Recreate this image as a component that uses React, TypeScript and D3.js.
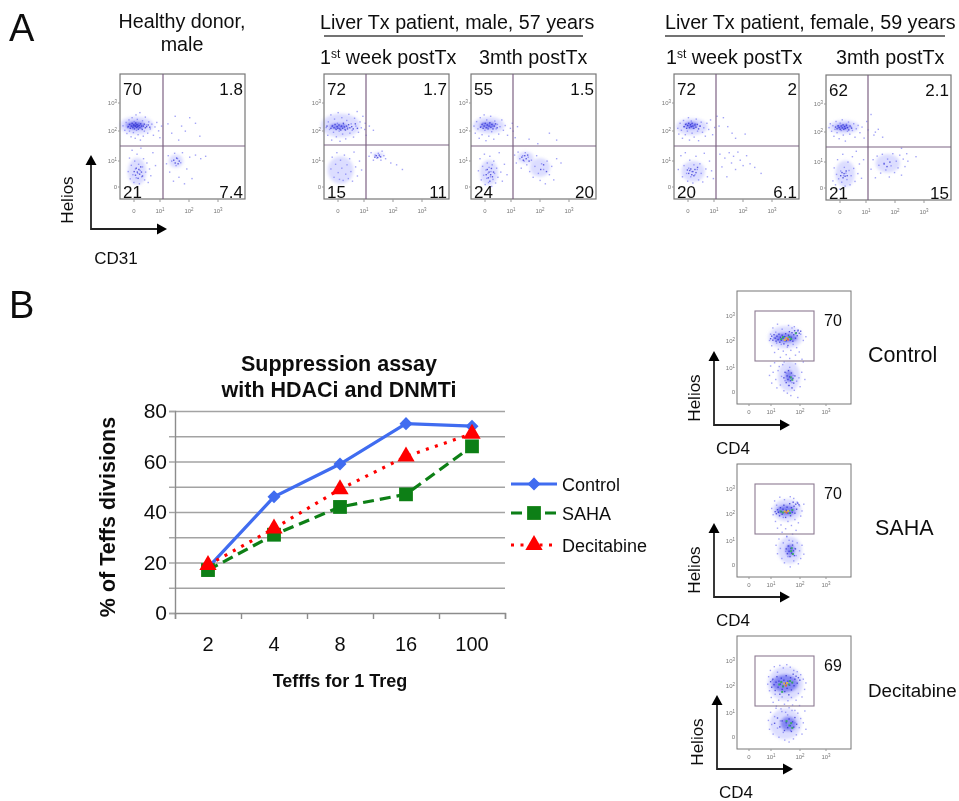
import React, { useEffect, useRef } from 'react'
import * as d3 from 'd3'

type Pair = number[]

// suppression assay
const ratios = ['2', '4', '8', '16', '100']
const controlValues = [18, 46, 59, 75, 74]
const sahaValues = [17, 31, 42, 47, 66]
const decitabineValues = [19, 33.5, 49, 62, 71]

// flow plots: events as [log x, log y]
const healthyDots: Pair[] = [
  [-.45, 2.21], [-.38, 2.05], [-.33, 2.33], [-.3, 1.94], [-.27, 2.15], [-.22, 2.42], [-.2, 2.02], [-.16, 2.27], [-.14, 1.83], [-.1, 2.5], [-.08, 2.11], [-.05, 1.97], [-.02, 2.36], [.02, 1.78], [.05, 2.6], [.07, 2.05], [.1, 2.44], [.13, 1.9], [.16, 2.3], [.2, 2.68], [.22, 1.72], [.26, 2.13], [.3, 2.39], [.33, 1.85], [.37, 2.02], [.41, 2.52], [.45, 2.24], [.5, 1.95], [.54, 2.35], [.6, 2.1], [.66, 2.27], [.72, 1.88], [.78, 2.17], [.85, 2.33], [.92, 2.03], [.97, 1.8], [1.03, 2.2],
  [-.25, .62], [-.2, 1.12], [-.17, .34], [-.13, .86], [-.1, 1.38], [-.07, .5], [-.03, .2], [0, 1.02], [.03, .72], [.06, .38], [.09, 1.25], [.12, .55], [.15, .9], [.18, .15], [.21, .66], [.24, 1.45], [.27, .42], [.3, .8], [.34, 1.1], [.38, .3], [.42, .6], [.47, .95], [.52, .2], [.57, .72], [.62, .46], [.7, 1.3], [.8, .85],
  [1.2, .92], [1.26, 1.2], [1.31, .6], [1.38, 1.02], [1.44, .25], [1.48, 1.28], [1.53, .85], [1.58, 1.1], [1.63, .4], [1.69, .96], [1.75, 1.3], [1.82, .15], [1.9, .72], [2, 1.15], [2.08, .35], [2.2, 1.22], [2.38, 1.1], [2.55, 1.18],
  [1.25, 2.28], [1.38, 1.95], [1.5, 2.55], [1.62, 1.72], [1.72, 2.2], [1.85, 2.02], [2, 2.5], [2.2, 2.3], [2.35, 1.85]
]
const healthyDense: Pair[] = [
  [-.25, 2.18], [-.2, 2.26], [-.17, 2.12], [-.13, 2.2], [-.1, 2.3], [-.07, 2.16], [-.04, 2.24], [-.01, 2.1], [.02, 2.2], [.04, 2.31], [.07, 2.15], [.09, 2.25], [.12, 2.18], [.14, 2.09], [.17, 2.22], [.2, 2.14], [.23, 2.28], [.26, 2.2], [.29, 2.08], [.33, 2.2], [.37, 2.27], [.41, 2.14], [.46, 2.18], [.52, 2.24], [.58, 2.16],
  [-.02, .62], [.03, .48], [.06, .75], [.1, .6], [.13, .36], [.16, .7], [.19, .52], [.23, .8], [.26, .6], [.3, .45], [1.45, 1.05], [1.5, .95], [1.55, 1.12], [1.6, .92], [1.64, 1.02]
]
const maleWeekDots: Pair[] = [
  [-.48, 2.15], [-.42, 1.88], [-.4, 2.35], [-.35, 2.08], [-.3, 2.6], [-.27, 1.72], [-.23, 2.22], [-.2, 1.98], [-.16, 2.45], [-.12, 2.12], [-.09, 1.83], [-.05, 2.3], [-.02, 2.68], [.02, 2.02], [.05, 1.68], [.08, 2.18], [.12, 2.5], [.15, 1.92], [.19, 2.25], [.23, 2.08], [.27, 1.76], [.31, 2.4], [.35, 2.15], [.39, 2.62], [.43, 1.95], [.48, 2.28], [.52, 2.05], [.57, 1.82], [.61, 2.48], [.66, 2.2], [.71, 2.72], [.76, 1.98], [.82, 2.35], [.87, 2.14], [.93, 2.55], [1, 2.08], [1.02, 2.3], [1.05, 1.88], [1.16, 2.2], [1.3, 2.05],
  [-.3, .72], [-.25, 1.15], [-.18, .4], [-.12, .9], [-.07, 1.3], [-.02, .58], [.03, .32], [.07, 1.05], [.12, .75], [.17, .28], [.22, 1.22], [.27, .52], [.32, .88], [.37, .35], [.42, 1.1], [.47, .62], [.53, .25], [.59, 1.32], [.65, .8], [.72, .45], [.8, 1.02], [.88, .68],
  [1.15, 1.18], [1.22, 1.3], [1.3, 1.05], [1.36, 1.22], [1.42, 1.12], [1.47, 1.28], [1.52, 1.18], [1.56, 1.05], [1.6, 1.35], [1.66, 1.2], [1.72, 1.1], [1.9, .95], [2.1, .88], [2.3, .7]
]
const maleWeekDense: Pair[] = [
  [-.45, 2.2], [-.3, 2.12], [-.25, 2.2], [-.18, 2.14], [-.14, 2.26], [-.1, 2.08], [-.06, 2.18], [-.03, 2.12], [.01, 2.24], [.04, 2.1], [.08, 2.06], [.11, 2.2], [.15, 2.12], [.18, 2.3], [.22, 2.17], [.26, 2.06], [.3, 2.2], [.34, 2.1], [.38, 2.25], [.43, 2.14], [.5, 2.18], [.56, 2.1], [.64, 2.28], [.72, 2.12],
  [1.35, 1.15], [1.4, 1.2], [1.45, 1.14], [1.5, 1.22], [1.55, 1.16]
]
const maleMonthDots: Pair[] = [
  [-.45, 2.2], [-.4, 1.95], [-.35, 2.36], [-.3, 2.1], [-.25, 1.78], [-.21, 2.5], [-.18, 2.18], [-.14, 1.9], [-.1, 2.3], [-.06, 2.6], [-.03, 2.05], [.01, 1.7], [.04, 2.42], [.08, 2.15], [.12, 1.85], [.15, 2.28], [.19, 2.55], [.23, 2], [.27, 2.2], [.31, 1.75], [.35, 2.38], [.4, 2.1], [.45, 2.26], [.5, 1.92], [.55, 2.18], [.62, 2.42], [.68, 2.05], [.75, 2.22], [.84, 1.88], [.95, 2.12], [1.02, 2.3], [1.05, 2.02], [1.12, 1.8], [1.2, 2.18],
  [-.28, .65], [-.22, 1.1], [-.17, .3], [-.12, .82], [-.08, .48], [-.05, 1.25], [-.02, .12], [.01, .68], [.04, .36], [.06, .95], [.09, .55], [.11, .2], [.13, .78], [.16, 1.18], [.18, .42], [.2, .62], [.23, .05], [.25, .88], [.28, .32], [.31, 1.02], [.34, .55], [.38, .18], [.42, .75], [.47, .4], [.52, 1.3], [.58, .6], [.64, .25], [.72, .9], [.82, .5],
  [1.1, 1.22], [1.16, .95], [1.22, 1.32], [1.28, 1.1], [1.33, .75], [1.38, 1.2], [1.43, 1.02], [1.47, 1.3], [1.52, .88], [1.57, 1.15], [1.62, .62], [1.68, 1.05], [1.74, .4], [1.8, .82], [1.86, 1.2], [1.92, .55], [1.98, .28], [2.03, .92], [2.1, .7], [2.16, .15], [2.22, 1.02], [2.3, .5], [2.38, .82], [2.45, .3], [2.55, 1.1], [2.7, .95],
  [1.6, 1.75], [1.9, 1.6], [2.3, 1.95], [2.55, 1.72]
]
const maleMonthDense: Pair[] = [
  [-.2, 2.16], [-.14, 2.26], [-.1, 2.12], [-.06, 2.2], [-.02, 2.3], [.02, 2.14], [.06, 2.24], [.09, 2.1], [.13, 2.2], [.16, 2.32], [.2, 2.16], [.24, 2.26], [.28, 2.1], [.33, 2.2], [.38, 2.28], [.44, 2.14],
  [.02, .5], [.06, .7], [.1, .38], [.13, .6], [.16, .25], [.19, .5], [.22, .74], [.26, .42], [.3, .6], [1.35, 1.15], [1.4, 1.05], [1.45, 1.2], [1.5, 1.1], [1.55, 1.22], [1.6, 1.02], [2, .7], [2.1, .88], [2.2, .62]
]
const femaleWeekDots: Pair[] = [
  [-.42, 2.12], [-.38, 1.92], [-.33, 2.3], [-.28, 2.05], [-.24, 1.78], [-.2, 2.4], [-.17, 2.18], [-.13, 1.9], [-.09, 2.28], [-.05, 2.02], [-.01, 2.5], [.03, 1.72], [.06, 2.2], [.1, 2.38], [.13, 1.95], [.17, 2.12], [.21, 1.82], [.25, 2.28], [.29, 2.45], [.34, 2.02], [.38, 1.7], [.43, 2.2], [.48, 2.34], [.53, 1.98], [.58, 2.14], [.64, 1.85], [.7, 2.3], [.77, 2.08], [.84, 2.42], [.92, 1.9], [1, 2.15], [1.08, 2.55], [1.15, 2.2], [1.3, 2.5], [1.45, 2.18], [1.6, 1.95], [1.72, 1.78], [2.05, 1.92],
  [-.4, .7], [-.3, 1.2], [-.24, .42], [-.18, .85], [-.13, 1.3], [-.08, .55], [-.04, .25], [0, .75], [.04, 1.05], [.08, .42], [.12, .62], [.16, .18], [.2, .88], [.24, .5], [.28, 1.18], [.33, .7], [.38, .3], [.43, .92], [.48, .55], [.54, .22], [.6, 1.28], [.66, .72], [.72, .42], [.8, 1.02], [.88, .65], [.95, .35],
  [1.18, 1.25], [1.25, .8], [1.35, 1.12], [1.42, .42], [1.5, 1.3], [1.58, .95], [1.65, 1.18], [1.72, .7], [1.8, 1.32], [1.88, 1.05], [1.98, .85], [2.1, 1.2], [2.22, .92], [2.38, .78], [2.6, .55]
]
const femaleWeekDense: Pair[] = [
  [-.18, 2.18], [-.12, 2.26], [-.08, 2.12], [-.04, 2.22], [0, 2.3], [.03, 2.14], [.07, 2.25], [.1, 2.18], [.13, 2.3], [.16, 2.2], [.2, 2.12], [.24, 2.24], [.28, 2.16], [.33, 2.26], [.38, 2.1], [.44, 2.2],
  [-.05, .68], [0, .55], [.04, .66], [.08, .72], [.12, .5], [.16, .62], [.2, .46], [.24, .7], [.28, .58], [.34, .78]
]
const femaleMonthDots: Pair[] = [
  [-.45, 2.18], [-.4, 2.32], [-.35, 2.05], [-.3, 2.25], [-.26, 1.88], [-.22, 2.12], [-.18, 2.4], [-.14, 2], [-.1, 2.22], [-.06, 1.8], [-.02, 2.34], [.02, 2.08], [.06, 2.46], [.1, 1.92], [.14, 2.16], [.18, 1.72], [.22, 2.3], [.26, 2.05], [.3, 2.38], [.35, 1.95], [.4, 2.2], [.45, 2.08], [.5, 2.32], [.55, 1.85], [.6, 2.14], [.67, 2.26], [.74, 2], [.82, 2.2], [.9, 1.82], [1, 2.4], [1.05, 2.1], [1.15, 2.65], [1.25, 1.92], [1.4, 2.12], [1.55, 1.85],
  [-.3, .3], [-.25, .8], [-.2, .15], [-.16, .55], [-.12, 1.1], [-.08, .38], [-.04, -.02], [0, .68], [.04, .25], [.08, 1.28], [.11, .5], [.14, .82], [.17, .1], [.2, .6], [.24, .35], [.28, 1.02], [.32, .7], [.36, .15], [.4, .5], [.45, 1.2], [.5, .78], [.55, .28], [.6, 1.38], [.66, .58], [.72, .95], [.8, .4], [.88, 1.1],
  [1.15, .75], [1.22, 1.1], [1.3, .42], [1.36, 1.22], [1.42, .9], [1.48, .6], [1.54, 1.28], [1.6, .98], [1.66, .72], [1.72, 1.12], [1.78, .45], [1.84, .88], [1.9, 1.3], [1.96, .62], [2.02, 1.05], [2.08, .8], [2.14, 1.25], [2.2, .52], [2.26, 1.12], [2.32, .85], [2.38, 1.3], [2.42, 1.05], [2.7, 1.2],
  [2.2, 1.48], [1.3, 2.02]
]
const femaleMonthDense: Pair[] = [
  [-.2, 2.2], [-.14, 2.14], [-.1, 2.25], [-.06, 2.18], [-.02, 2.12], [.02, 2.24], [.06, 2.17], [.09, 2.28], [.12, 2.12], [.15, 2.22], [.18, 2.15], [.22, 2.26], [.26, 2.18], [.31, 2.1], [.36, 2.24], [.42, 2.16],
  [0, .5], [.05, .62], [.09, .42], [.13, .58], [.17, .48], [.21, .68], [.25, .5], [1.6, .95], [1.7, .85], [1.8, 1.02]
]
const gateControlDots: Pair[] = [
  [.9, 2.05], [.95, 2.3], [1, 1.85], [1.04, 2.55], [1.08, 2.15], [1.1, 1.6], [1.14, 2.38], [1.17, 1.95], [1.2, 2.7], [1.23, 1.72], [1.26, 2.12], [1.3, 1.42], [1.33, 1.9], [1.36, 2.5], [1.4, 1.65], [1.43, 1.25], [1.46, 2.02], [1.5, 1.52], [1.54, 1.8], [1.58, 2.65], [1.62, 1.38], [1.66, 1.68], [1.7, 2.55], [1.74, 1.9], [1.78, 2.6], [1.82, 1.5], [1.86, 1.78], [1.9, 2.42], [1.95, 1.62], [2, 2.3], [2.05, 1.35], [2.1, 2.05], [2.2, 2.2],
  [.9, .72], [.95, 1.1], [1, .4], [1.05, .85], [1.1, 1.22], [1.14, .55], [1.18, .2], [1.22, .92], [1.26, 1.08], [1.3, .32], [1.34, .68], [1.38, 1.15], [1.42, .08], [1.46, .5], [1.5, .82], [1.54, -.02], [1.58, .3], [1.62, 1.05], [1.66, -.12], [1.7, .42], [1.74, .72], [1.78, .1], [1.82, 1.18], [1.86, .48], [1.9, -.2], [1.94, .62], [1.98, .25], [2.04, .85], [2.1, 1.25], [2.16, .55]
]
const gateControlDense: Pair[] = [
  [.95, 2.12], [1, 2.22], [1.04, 2.06], [1.08, 2.28], [1.12, 2.14], [1.15, 2.02], [1.18, 2.22], [1.22, 2.08], [1.25, 2.3], [1.28, 1.98], [1.3, 2.18], [1.33, 2.06], [1.36, 2.26], [1.39, 2.14], [1.42, 1.92], [1.45, 2.2], [1.48, 2.32], [1.5, 2.04], [1.53, 2.14], [1.56, 1.86], [1.58, 2.26], [1.61, 2.4], [1.64, 2.06], [1.67, 2.18], [1.7, 2.36], [1.73, 2.02], [1.76, 2.28], [1.79, 2.44], [1.82, 2.14], [1.85, 2.36], [1.88, 2.24], [1.91, 2.46], [1.95, 2.34], [2, 2.42],
  [1.42, .62], [1.46, .85], [1.5, .42], [1.53, .7], [1.56, .55], [1.58, .92], [1.6, .3], [1.62, .66], [1.65, .5], [1.68, .82], [1.7, .2], [1.73, .6], [1.76, .4], [1.8, .7]
]
const gateSahaDots: Pair[] = [
  [1, 2.25], [1.05, 2], [1.1, 2.55], [1.13, 1.75], [1.17, 2.38], [1.2, 1.5], [1.24, 2.1], [1.28, 2.7], [1.32, 1.62], [1.36, 1.35], [1.4, 1.9], [1.44, 2.6], [1.48, 1.48], [1.52, 1.2], [1.56, 1.75], [1.6, 1.05], [1.64, 2.72], [1.68, 1.6], [1.72, 1.28], [1.76, 2.65], [1.8, 1.82], [1.84, 1.42], [1.88, 2.5], [1.92, 1.7], [1.96, 2.35], [2, 1.95], [2.05, 2.15], [2.12, 2.42],
  [1.15, .85], [1.2, .5], [1.25, 1.1], [1.3, .72], [1.35, .3], [1.4, .95], [1.44, .12], [1.48, .6], [1.52, 1.18], [1.56, .38], [1.6, .82], [1.64, -.05], [1.68, .55], [1.72, 1.02], [1.76, .2], [1.8, .72], [1.84, .42], [1.88, .95], [1.92, .08], [1.96, .62], [2, .3], [2.05, .85], [2.12, .48]
]
const gateSahaDense: Pair[] = [
  [1.12, 2.12], [1.16, 2.04], [1.2, 2.2], [1.23, 2.1], [1.27, 1.96], [1.3, 2.28], [1.33, 2.12], [1.36, 2.02], [1.39, 2.22], [1.42, 2.38], [1.45, 2.1], [1.48, 1.9], [1.5, 2.18], [1.53, 2.3], [1.56, 2.06], [1.59, 2.16], [1.62, 2.44], [1.65, 1.96], [1.68, 2.28], [1.71, 2.1], [1.74, 2.5], [1.77, 2.34], [1.8, 2.06], [1.83, 2.42], [1.86, 2.22], [1.9, 2.46], [1.94, 2.4],
  [1.5, .7], [1.54, .5], [1.57, .82], [1.6, .6], [1.63, .38], [1.66, .72], [1.69, .52], [1.72, .86], [1.75, .62], [1.78, .42], [1.82, .7]
]
const gateDecitabineDots: Pair[] = [
  [.82, 2.1], [.86, 2.4], [.9, 1.85], [.94, 2.65], [.98, 1.6], [1.02, 2.25], [1.05, 1.42], [1.09, 2.8], [1.12, 1.72], [1.16, 1.28], [1.2, 2.58], [1.24, 1.5], [1.28, 2.85], [1.32, 1.18], [1.36, 1.62], [1.4, 2.75], [1.44, 1.35], [1.48, 1.05], [1.52, 2.88], [1.56, 1.48], [1.6, 1.22], [1.64, 2.78], [1.68, 1.6], [1.72, 1.32], [1.76, 2.65], [1.8, 1.12], [1.84, 1.5], [1.88, 2.6], [1.92, 1.75], [1.96, 1.3], [2, 2.48], [2.05, 1.62], [2.1, 2.3], [2.15, 1.9], [2.2, 2.15],
  [.85, .72], [.9, .35], [.95, 1.05], [1, .55], [1.05, .15], [1.1, .88], [1.15, 1.2], [1.2, .4], [1.25, .02], [1.3, .7], [1.35, 1.08], [1.4, .22], [1.45, -.1], [1.5, .52], [1.55, .95], [1.6, -.18], [1.65, .3], [1.7, 1.12], [1.75, -.05], [1.8, .62], [1.85, .12], [1.9, 1.02], [1.95, .42], [2, .8], [2.05, .15], [2.1, .62], [2.16, 1.1], [2.2, .35]
]
const gateDecitabineDense: Pair[] = [
  [.95, 2.2], [1, 1.98], [1.04, 2.3], [1.08, 2.08], [1.12, 1.86], [1.15, 2.18], [1.18, 2.4], [1.22, 1.98], [1.25, 2.22], [1.28, 1.72], [1.3, 2.1], [1.33, 2.34], [1.36, 1.9], [1.39, 2.02], [1.42, 2.26], [1.45, 1.82], [1.48, 2.14], [1.5, 2.44], [1.53, 1.94], [1.56, 2.22], [1.59, 1.7], [1.62, 2.06], [1.65, 2.36], [1.68, 1.88], [1.71, 2.16], [1.74, 2.5], [1.77, 2.04], [1.8, 2.3], [1.84, 2.42], [1.88, 2.14], [1.92, 2.36], [1.97, 2.26],
  [1.1, .6], [1.2, .82], [1.28, .45], [1.36, .7], [1.44, .3], [1.5, .62], [1.55, .42], [1.6, .78], [1.64, .5], [1.68, .26], [1.72, .66], [1.76, .44], [1.8, .84], [1.86, .56]
]

// hot spots of the density colouring as [log x, log y, density level]
const gateControlHot: Pair[] = [[1.32, 2.12, 3], [1.38, 2.2, 3], [1.44, 2.08, 4], [1.5, 2.16, 4], [1.55, 2.1, 5], [1.6, 2.2, 3], [1.66, 2.12, 3], [1.82, 2.35, 3], [1.65, .65, 3], [1.7, .55, 3]]
const gateSahaHot: Pair[] = [[1.3, 2.14, 3], [1.38, 2.1, 3], [1.44, 2.14, 4], [1.5, 2.1, 5], [1.56, 2.16, 4], [1.62, 2.08, 3], [1.7, 2.2, 3], [1.66, .62, 3], [1.72, .5, 3], [1.68, .74, 3]]
const gateDecitabineHot: Pair[] = [[1.25, 2.1, 3], [1.32, 2.2, 3], [1.38, 2.02, 3], [1.42, 2.14, 4], [1.48, 2.06, 5], [1.52, 2.16, 4], [1.58, 2.1, 3], [1.62, 2.24, 3], [1.7, 2.18, 3], [1.35, 1.82, 3], [1.6, .52, 3], [1.66, .62, 3], [1.7, .42, 3], [1.5, .7, 3]]

// dense regions as [log x, log y, log rx, log ry, density level]
const healthyCores: Pair[] = [[.1, 2.2, .65, .32, 0], [.05, 2.2, .38, .15, 1], [.05, 2.2, .16, .05, 2], [.12, .6, .36, .5, 0], [1.55, 1, .25, .22, 0]]
const maleWeekCores: Pair[] = [[.1, 2.2, .75, .42, 0], [.02, 2.16, .36, .1, 1], [.1, .65, .5, .5, 0], [1.5, 1.2, .2, .08, 0]]
const maleMonthCores: Pair[] = [[.15, 2.2, .6, .3, 0], [.12, 2.2, .32, .12, 1], [.15, .55, .35, .48, 0], [1.5, 1.12, .28, .2, 0], [2, .75, .35, .35, 0]]
const femaleWeekCores: Pair[] = [[.15, 2.15, .6, .3, 0], [.12, 2.2, .26, .12, 1], [.2, .6, .45, .4, 0]]
const femaleMonthCores: Pair[] = [[.15, 2.18, .58, .24, 0], [.12, 2.18, .3, .11, 1], [.2, .55, .38, .5, 0], [1.75, .95, .42, .32, 0]]
const gateControlCores: Pair[] = [[1.5, 2.15, .6, .45, 0], [1.5, 2.12, .42, .2, 1], [1.62, .65, .38, .6, 0], [1.62, .65, .14, .26, 1]]
const gateSahaCores: Pair[] = [[1.55, 2.15, .5, .44, 0], [1.52, 2.14, .34, .22, 1], [1.65, .62, .42, .55, 0], [1.66, .62, .16, .26, 1]]
const gateDecitabineCores: Pair[] = [[1.5, 2.1, .62, .68, 0], [1.48, 2.1, .46, .36, 1], [1.5, .55, .55, .62, 0], [1.6, .55, .28, .3, 1]]

const densityColors = ['#c4c6ff', '#7072f0', '#2a2ad0', '#34a860', '#e8c030', '#ee6a28']
const logTicks = [0, 1, 2, 3]

// where things sit on the page
const quadPanels = [
  { left: 120, top: 74, splitX: 43, splitY: 72, labels: ['70', '1.8', '21', '7.4'], dots: healthyDots, dense: healthyDense, cores: healthyCores },
  { left: 324, top: 74, splitX: 42, splitY: 71, labels: ['72', '1.7', '15', '11'], dots: maleWeekDots, dense: maleWeekDense, cores: maleWeekCores },
  { left: 471, top: 74, splitX: 42, splitY: 72, labels: ['55', '1.5', '24', '20'], dots: maleMonthDots, dense: maleMonthDense, cores: maleMonthCores },
  { left: 674, top: 74, splitX: 42, splitY: 72, labels: ['72', '2', '20', '6.1'], dots: femaleWeekDots, dense: femaleWeekDense, cores: femaleWeekCores },
  { left: 826, top: 75, splitX: 42, splitY: 72, labels: ['62', '2.1', '21', '15'], dots: femaleMonthDots, dense: femaleMonthDense, cores: femaleMonthCores }
]
const gatePanels = [
  { top: 291, label: '70', name: 'Control', nameSize: 21.5, nameX: 868, nameY: 362, arrowX: 714, arrowY: 425, dots: gateControlDots, dense: gateControlDense, hot: gateControlHot, cores: gateControlCores },
  { top: 464, label: '70', name: 'SAHA', nameSize: 21.5, nameX: 875, nameY: 535, arrowX: 714, arrowY: 597, dots: gateSahaDots, dense: gateSahaDense, hot: gateSahaHot, cores: gateSahaCores },
  { top: 636, label: '69', name: 'Decitabine', nameSize: 18.8, nameX: 868, nameY: 697, arrowX: 717, arrowY: 769, dots: gateDecitabineDots, dense: gateDecitabineDense, hot: gateDecitabineHot, cores: gateDecitabineCores }
]

const sans = '"Liberation Sans", Arial, sans-serif'

function addText (g, x, y, str, size, opts: any = {}) {
  return g.append('text')
    .attr('x', x)
    .attr('y', y)
    .attr('font-size', size)
    .attr('font-family', sans)
    .attr('fill', opts.fill || '#111')
    .attr('font-weight', opts.weight || 'normal')
    .attr('text-anchor', opts.anchor || 'start')
    .text(str)
}

function addVertical (g, x, y, str, size, weight = 'normal') {
  g.append('text')
    .attr('transform', `translate(${x},${y}) rotate(-90)`)
    .attr('text-anchor', 'middle')
    .attr('font-size', size)
    .attr('font-family', sans)
    .attr('font-weight', weight)
    .attr('fill', '#111')
    .text(str)
}

function addArrows (g, x, y, lenUp, lenRight) {
  g.append('path')
    .attr('d', d3.line()([[x, y - lenUp + 8], [x, y], [x + lenRight - 8, y]]))
    .attr('fill', 'none')
    .attr('stroke', '#222')
    .attr('stroke-width', 1.8)
  g.append('path').attr('d', `M${x},${y - lenUp}l5.5,10h-11z`).attr('fill', '#000')
  g.append('path').attr('d', `M${x + lenRight},${y}l-10,-5.5v11z`).attr('fill', '#000')
}

function addLogTick (g, x, y, value, anchor = 'middle') {
  const t = g.append('text')
    .attr('x', x)
    .attr('y', y)
    .attr('font-size', 6)
    .attr('font-family', sans)
    .attr('fill', '#777')
    .attr('text-anchor', anchor)
  if (value === 0) {
    t.text('0')
  } else {
    t.append('tspan').text('10')
    t.append('tspan').attr('dy', -2).attr('font-size', 4.5).text(value)
  }
}

function drawCloud (g, p, x, y) {
  const cloud = g.append('g').attr('filter', 'url(#soft)')
  cloud.selectAll('ellipse')
    .data(p.cores)
    .enter().append('ellipse')
    .attr('cx', d => x(d[0]))
    .attr('cy', d => y(d[1]))
    .attr('rx', d => Math.abs(x(d[0] + d[2]) - x(d[0])))
    .attr('ry', d => Math.abs(y(d[1] + d[3]) - y(d[1])))
    .attr('fill', d => densityColors[d[4]])
    .attr('opacity', d => d[4] === 0 ? 0.6 : 0.8)

  const addDots = (data, size, color, opacity) => {
    g.append('g').selectAll('rect')
      .data(data)
      .enter().append('rect')
      .attr('x', d => x(d[0]))
      .attr('y', d => y(d[1]))
      .attr('width', size)
      .attr('height', size)
      .attr('fill', typeof color === 'function' ? color : () => color)
      .attr('opacity', opacity)
  }
  addDots(p.dots, 1.4, '#6668f2', 0.6)
  addDots(p.dense, 1.4, '#2222d0', 0.7)
  if (p.hot) addDots(p.hot, 2, d => densityColors[d[2]], 0.9)
}

function drawQuadPanel (svg, p) {
  const g = svg.append('g').attr('transform', `translate(${p.left},${p.top})`)
  const w = 125
  const h = 125
  const x = d3.scaleLinear().domain([0, 1, 2, 3]).range([14, 40, 69, 98])
  const y = d3.scaleLinear().domain([0, 1, 2, 3]).range([113, 87, 57, 29])

  drawCloud(g, p, x, y)

  g.append('rect')
    .attr('width', w)
    .attr('height', h)
    .attr('fill', 'none')
    .attr('stroke', '#777')
    .attr('stroke-width', 1.2)
  g.append('line').attr('x1', p.splitX).attr('x2', p.splitX).attr('y1', 0).attr('y2', h)
    .attr('stroke', '#7d6284').attr('stroke-width', 1.2)
  g.append('line').attr('x1', 0).attr('x2', w).attr('y1', p.splitY).attr('y2', p.splitY)
    .attr('stroke', '#7d6284').attr('stroke-width', 1.2)

  logTicks.forEach(t => {
    addLogTick(g, x(t), h + 14, t)
    addLogTick(g, -3, y(t) + 2, t, 'end')
    g.append('line').attr('x1', x(t)).attr('x2', x(t)).attr('y1', h).attr('y2', h + 3).attr('stroke', '#999')
    g.append('line').attr('x1', -2).attr('x2', 0).attr('y1', y(t)).attr('y2', y(t)).attr('stroke', '#999')
  })

  addText(g, 3, 21, p.labels[0], 17)
  addText(g, w - 2, 21, p.labels[1], 17, { anchor: 'end' })
  addText(g, 3, h - 1, p.labels[2], 17)
  addText(g, w - 2, h - 1, p.labels[3], 17, { anchor: 'end' })
}

function drawGatePanel (svg, p) {
  const g = svg.append('g').attr('transform', `translate(737,${p.top})`)
  const w = 114
  const h = 113
  const x = d3.scaleLinear().domain([0, 1, 2, 3]).range([12, 34, 63, 89])
  const y = d3.scaleLinear().domain([0, 1, 2, 3]).range([101, 77, 50, 25])

  drawCloud(g, p, x, y)

  g.append('rect')
    .attr('width', w)
    .attr('height', h)
    .attr('fill', 'none')
    .attr('stroke', '#777')
    .attr('stroke-width', 1)
  g.append('rect')
    .attr('x', 18)
    .attr('y', 20)
    .attr('width', 59)
    .attr('height', 50)
    .attr('fill', 'none')
    .attr('stroke', '#8d7a92')
    .attr('stroke-width', 1.1)

  logTicks.forEach(t => {
    addLogTick(g, x(t), h + 10, t)
    addLogTick(g, -2, y(t) + 2, t, 'end')
    g.append('line').attr('x1', x(t)).attr('x2', x(t)).attr('y1', h).attr('y2', h + 2).attr('stroke', '#999')
  })

  addText(g, 87, 35, p.label, 16)
  addText(svg, p.nameX, p.nameY, p.name, p.nameSize)
  addArrows(svg, p.arrowX, p.arrowY, 74, 76)
  addVertical(svg, p.arrowX - 14, p.arrowY - 27, 'Helios', 17)
  addText(svg, p.arrowX + 19, p.arrowY + 29, 'CD4', 17, { anchor: 'middle' })
}

function drawAssay (svg) {
  const g = svg.append('g')
  const left = 175
  const right = 505
  const top = 411
  const bottom = 613
  const y = d3.scaleLinear().domain([0, 80]).range([bottom, top])
  const band = d3.scaleBand().domain(ratios).range([left, right])
  const edges = d3.scaleLinear().domain([0, 5]).range([left, right])
  const px = (i: number) => (band(ratios[i]) as number) + band.bandwidth() / 2

  const grid = g.append('g')
    .attr('transform', `translate(${left},0)`)
    .call(d3.axisLeft(y).tickValues(d3.range(10, 90, 10)).tickSize(-(right - left)).tickFormat(() => ''))
  grid.select('.domain').remove()
  grid.selectAll('line').attr('stroke', '#a3a3a3').attr('stroke-width', 1.4)

  const yAxis = g.append('g')
    .attr('transform', `translate(${left},0)`)
    .call(d3.axisLeft(y).tickValues(d3.range(0, 90, 10)).tickSize(6).tickPadding(2)
      .tickFormat(d => (+d % 20 === 0 ? String(d) : '')))
  yAxis.select('.domain').attr('stroke', '#8c8c8c').attr('stroke-width', 1.4)
  yAxis.selectAll('line').attr('stroke', '#a3a3a3').attr('stroke-width', 1.4)
  yAxis.selectAll('text').attr('font-size', 21).attr('font-family', sans).attr('fill', '#111')

  const xEdges = g.append('g')
    .attr('transform', `translate(0,${bottom})`)
    .call(d3.axisBottom(edges).tickValues(d3.range(0, 6)).tickSize(6).tickFormat(() => ''))
  xEdges.select('.domain').attr('stroke', '#8c8c8c').attr('stroke-width', 1.4)
  xEdges.selectAll('line').attr('stroke', '#8c8c8c').attr('stroke-width', 1.4)

  const xLabels = g.append('g')
    .attr('transform', `translate(0,${bottom})`)
    .call(d3.axisBottom(band).tickSize(0).tickPadding(24))
  xLabels.select('.domain').remove()
  xLabels.selectAll('text').attr('font-size', 20).attr('font-family', sans).attr('fill', '#111')

  const series = [
    { name: 'Control', values: controlValues, color: '#3f6cf0', dash: null, shape: d3.symbolSquare, size: 85, turn: 45, legendY: 484 },
    { name: 'SAHA', values: sahaValues, color: '#0b7f14', dash: '11 6', shape: d3.symbolSquare, size: 190, turn: 0, legendY: 513 },
    { name: 'Decitabine', values: decitabineValues, color: '#ff0000', dash: '3 6.5', shape: d3.symbolTriangle, size: 130, turn: 0, legendY: 545 }
  ]
  const line = d3.line<number>().x((d, i) => px(i)).y(d => y(d))

  series.forEach(s => {
    g.append('path')
      .attr('d', line(s.values))
      .attr('fill', 'none')
      .attr('stroke', s.color)
      .attr('stroke-width', 3.2)
      .attr('stroke-dasharray', s.dash)
    g.selectAll(null)
      .data(s.values)
      .enter().append('path')
      .attr('d', d3.symbol().type(s.shape).size(s.size))
      .attr('transform', (d, i) => `translate(${px(i)},${y(d)}) rotate(${s.turn})`)
      .attr('fill', s.color)

    g.append('line')
      .attr('x1', 511).attr('x2', 557)
      .attr('y1', s.legendY).attr('y2', s.legendY)
      .attr('stroke', s.color)
      .attr('stroke-width', 3.2)
      .attr('stroke-dasharray', s.dash)
    g.append('path')
      .attr('d', d3.symbol().type(s.shape).size(s.size))
      .attr('transform', `translate(534,${s.legendY}) rotate(${s.turn})`)
      .attr('fill', s.color)
    addText(g, 562, s.legendY + 7, s.name, 18)
  })

  addText(g, 339, 371, 'Suppression assay', 21.5, { weight: 'bold', anchor: 'middle' })
  addText(g, 339, 397, 'with HDACi and DNMTi', 21.5, { weight: 'bold', anchor: 'middle' })
  addText(g, 340, 687, 'Tefffs for 1 Treg', 18, { weight: 'bold', anchor: 'middle' })
  addVertical(g, 115, 517, '% of Teffs divisions', 21.5, 'bold')
}

function drawHeadings (svg) {
  addText(svg, 9, 41, 'A', 38)
  addText(svg, 9, 318, 'B', 38)

  addText(svg, 182, 28, 'Healthy donor,', 19.7, { anchor: 'middle' })
  addText(svg, 182, 51, 'male', 19.7, { anchor: 'middle' })
  addArrows(svg, 91, 229, 74, 76)
  addVertical(svg, 73, 200, 'Helios', 17)
  addText(svg, 116, 264, 'CD31', 17, { anchor: 'middle' })

  addText(svg, 320, 29, 'Liver Tx patient, male, 57 years', 19.7)
  addText(svg, 665, 29, 'Liver Tx patient, female, 59 years', 19.7)
  svg.append('line').attr('x1', 324).attr('x2', 583).attr('y1', 36).attr('y2', 36).attr('stroke', '#444').attr('stroke-width', 1.4)
  svg.append('line').attr('x1', 665).attr('x2', 945).attr('y1', 36).attr('y2', 36).attr('stroke', '#444').attr('stroke-width', 1.4)

  const addWeek = (x: number) => {
    const t = addText(svg, x, 64, '1', 19.7)
    t.append('tspan').attr('dy', -6).attr('font-size', 12).text('st')
    t.append('tspan').attr('dy', 6).text(' week postTx')
  }
  addWeek(320)
  addWeek(666)
  addText(svg, 479, 64, '3mth postTx', 19.7)
  addText(svg, 836, 64, '3mth postTx', 19.7)
}

export default function App () {
  const ref = useRef<SVGSVGElement>(null)

  useEffect(() => {
    const svg = d3.select(ref.current)
    svg.selectAll('*').remove()

    const defs = svg.append('defs')
    defs.append('filter')
      .attr('id', 'soft')
      .attr('x', '-30%').attr('y', '-30%').attr('width', '160%').attr('height', '160%')
      .append('feGaussianBlur')
      .attr('stdDeviation', 1.6)
    // the source is a resampled bitmap, everything in it is a little soft
    defs.append('filter')
      .attr('id', 'resampled')
      .attr('filterUnits', 'userSpaceOnUse')
      .attr('x', 0).attr('y', 0).attr('width', 959).attr('height', 801)
      .append('feGaussianBlur')
      .attr('stdDeviation', 0.4)

    const page = svg.append('g').attr('filter', 'url(#resampled)')
    drawHeadings(page)
    quadPanels.forEach(p => drawQuadPanel(page, p))
    drawAssay(page)
    gatePanels.forEach(p => drawGatePanel(page, p))
  }, [])

  return <svg
    ref={ref}
    width={959}
    height={801}
    viewBox='0 0 959 801'
    style={{ position: 'absolute', left: 0, top: 0, background: '#fff' }}
  />
}
